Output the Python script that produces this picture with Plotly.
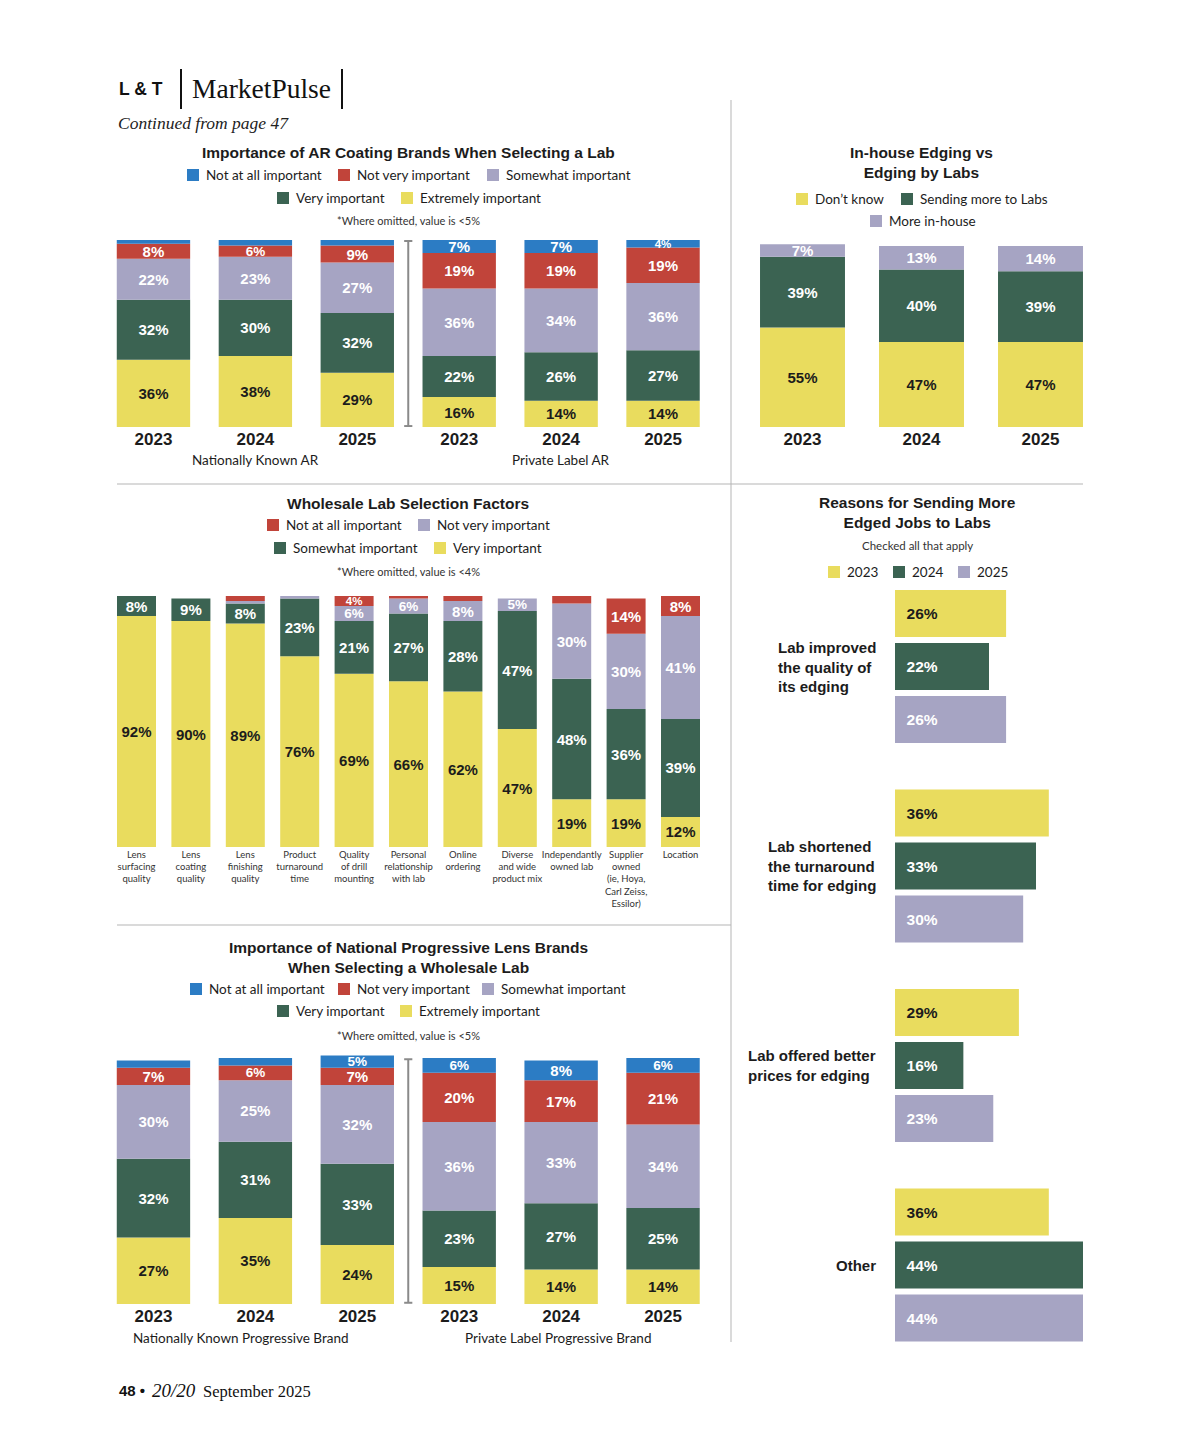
import plotly.graph_objects as go
import numpy as np

OFF = 8  # page body margin
W, H = 1184, 1434

# ---------------- DATA ----------------
ar_years = ['2023', '2024', '2025', '2023', '2024', '2025']
ar_groups = ['Nationally Known AR', 'Private Label AR']
ar_extremely = [36, 38, 29, 16, 14, 14]
ar_very = [32, 30, 32, 22, 26, 27]
ar_somewhat = [22, 23, 27, 36, 34, 36]
ar_not_very = [8, 6, 9, 19, 19, 19]
ar_not_at_all = [2, 3, 3, 7, 7, 4]

inhouse_years = ['2023', '2024', '2025']
inhouse_dont_know = [55, 47, 47]
inhouse_sending_labs = [39, 40, 39]
inhouse_more_inhouse = [7, 13, 14]

ws_factors = ['Lens<br>surfacing<br>quality', 'Lens<br>coating<br>quality', 'Lens<br>finishing<br>quality',
              'Product<br>turnaround<br>time', 'Quality<br>of drill<br>mounting',
              'Personal<br>relationship<br>with lab', 'Online<br>ordering',
              'Diverse<br>and wide<br>product mix', 'Independantly<br>owned lab',
              'Supplier<br>owned<br>(ie, Hoya,<br>Carl Zeiss,<br>Essilor)', 'Location']
ws_very = [92, 90, 89, 76, 69, 66, 62, 47, 19, 19, 12]
ws_somewhat = [8, 9, 8, 23, 21, 27, 28, 47, 48, 36, 39]
ws_not_very = [0, 0, 1, 1, 6, 6, 8, 5, 30, 30, 41]
ws_not_at_all = [0, 0, 2, 0, 4, 1, 2, 0, 3, 14, 8]

reasons = ['Lab improved<br>the quality of<br>its edging',
           'Lab shortened<br>the turnaround<br>time for edging',
           'Lab offered better<br>prices for edging',
           'Other']
reasons_2023 = [26, 36, 29, 36]
reasons_2024 = [22, 33, 16, 44]
reasons_2025 = [26, 30, 23, 44]

prog_years = ['2023', '2024', '2025', '2023', '2024', '2025']
prog_groups = ['Nationally Known Progressive Brand', 'Private Label Progressive Brand']
prog_extremely = [27, 35, 24, 15, 14, 14]
prog_very = [32, 31, 33, 23, 27, 25]
prog_somewhat = [30, 25, 32, 36, 33, 34]
prog_not_very = [7, 6, 7, 20, 17, 21]
prog_not_at_all = [3, 3, 5, 6, 8, 6]

# ---------------- STYLE ----------------
YEL = '#e9dc5e'
GRN = '#3b6352'
LAV = '#a6a4c3'
RED = '#c1443a'
BLU = '#2c7cc4'
DARK = '#1c1c1c'
SANS = 'Liberation Sans'
LEGF = 'Lato'
SERIF = 'Liberation Serif'


def px(x):
    return (x - OFF) / W


def py(y):
    return 1 - (y - OFF) / H


fig = go.Figure()
shapes = []
annotations = []


def label_size(a):
    if a <= 4:
        return 11.5
    if a <= 6:
        return 13.5
    return 15


def stacked(xa, ya, series, colors, width):
    n = len(series[0])
    base = np.zeros(n)
    for vals, col in zip(series, colors):
        v = np.array(vals, dtype=float)
        text = [f"{int(a)}%" if a >= 4 else "" for a in v]
        sizes = [label_size(a) for a in v]
        fig.add_trace(go.Bar(
            x=list(range(n)), y=v, base=base.copy(), width=width,
            marker=dict(color=col, line=dict(width=0)),
            text=text, textposition='inside', insidetextanchor='middle', textangle=0,
            constraintext='none',
            textfont=dict(color=DARK if col == YEL else 'white', family=SANS, size=sizes, weight=700),
            cliponaxis=False, xaxis=xa, yaxis=ya, showlegend=False))
        base += v


stacked('x', 'y', [ar_extremely, ar_very, ar_somewhat, ar_not_very, ar_not_at_all],
        [YEL, GRN, LAV, RED, BLU], 0.72)
stacked('x2', 'y2', [inhouse_dont_know, inhouse_sending_labs, inhouse_more_inhouse],
        [YEL, GRN, LAV], 0.714)
stacked('x3', 'y3', [ws_very, ws_somewhat, ws_not_very, ws_not_at_all],
        [YEL, GRN, LAV, RED], 0.717)
stacked('x4', 'y4', [prog_extremely, prog_very, prog_somewhat, prog_not_very, prog_not_at_all],
        [YEL, GRN, LAV, RED, BLU], 0.72)

# reasons (horizontal grouped)
bw = 47 / 199.5
step = 53 / 199.5
for k, (vals, col) in enumerate(zip([reasons_2023, reasons_2024, reasons_2025], [YEL, GRN, LAV])):
    fig.add_trace(go.Bar(
        y=list(range(len(reasons))), x=vals, orientation='h', width=bw,
        offset=(k - 1) * step - bw / 2,
        marker=dict(color=col, line=dict(width=0)),
        text=["\u00a0\u00a0" + f"{v}%" for v in vals], textposition='inside',
        insidetextanchor='start', textangle=0, constraintext='none',
        textfont=dict(color=DARK if col == YEL else 'white', family=SANS, size=15.5, weight=700),
        cliponaxis=False, xaxis='x5', yaxis='y5', showlegend=False))

for i, r in enumerate(reasons):
    annotations.append(dict(xref='paper', yref='y5', x=px(878), y=i, xanchor='right', yanchor='middle',
                            align='left', showarrow=False, text=f"<b>{r}</b>",
                            font=dict(family=SANS, size=15, color=DARK)))

year_font = dict(family=SANS, size=17, color=DARK)
common_x = dict(showgrid=False, zeroline=False, showline=False, ticks='', fixedrange=True)
common_y = dict(visible=False, fixedrange=True)

YMAX = 104  # headroom so that bars summing above 100 keep their labels


def ydom(bottom, top100):
    scale = (bottom - top100) / 100.0
    return [py(bottom), py(bottom - YMAX * scale)]


fig.update_layout(
    width=W, height=H, margin=dict(l=0, r=0, t=0, b=0),
    paper_bgcolor='white', plot_bgcolor='rgba(0,0,0,0)',
    barmode='overlay',
    xaxis=dict(domain=[px(102.5), px(714)], range=[-0.5, 5.5], anchor='y',
               tickvals=list(range(6)), ticktext=[f"<b>{y}</b>" for y in ar_years],
               tickfont=year_font, tickangle=0, **common_x),
    yaxis=dict(domain=ydom(427, 240), range=[0, YMAX], anchor='x', **common_y),
    xaxis2=dict(domain=[px(743), px(1100)], range=[-0.5, 2.5], anchor='y2',
                tickvals=list(range(3)), ticktext=[f"<b>{y}</b>" for y in inhouse_years],
                tickfont=year_font, tickangle=0, **common_x),
    yaxis2=dict(domain=ydom(427, 246), range=[0, YMAX], anchor='x2', **common_y),
    xaxis3=dict(domain=[px(109.3), px(707.7)], range=[-0.5, 10.5], anchor='y3',
                tickvals=list(range(11)), ticktext=ws_factors, tickangle=0,
                tickfont=dict(family=LEGF, size=9.5, color='#333'), **common_x),
    yaxis3=dict(domain=ydom(847, 596), range=[0, YMAX], anchor='x3', **common_y),
    xaxis4=dict(domain=[px(102.5), px(714)], range=[-0.5, 5.5], anchor='y4',
                tickvals=list(range(6)), ticktext=[f"<b>{y}</b>" for y in prog_years],
                tickfont=year_font, tickangle=0, **common_x),
    yaxis4=dict(domain=ydom(1304, 1058), range=[0, YMAX], anchor='x4', **common_y),
    xaxis5=dict(domain=[px(895), px(1083)], range=[0, 44], anchor='y5', visible=False, fixedrange=True),
    yaxis5=dict(domain=[py(1364.75), py(566.75)], range=[3.5, -0.5], anchor='x5', **common_y),
)


def text(x, y, t, size=13, family=LEGF, color=DARK, xanchor='left', yanchor='middle', align='left'):
    annotations.append(dict(xref='paper', yref='paper', x=px(x), y=py(y), text=t, showarrow=False,
                            xanchor=xanchor, yanchor=yanchor, align=align,
                            font=dict(family=family, size=size, color=color)))


def legend_item(xs, yc, color, label, size=12):
    shapes.append(dict(type='rect', xref='paper', yref='paper', x0=px(xs), x1=px(xs + size),
                       y0=py(yc + size / 2), y1=py(yc - size / 2), fillcolor=color, line=dict(width=0)))
    text(xs + size + 5, yc, label, size=13.5)


def line(x0, y0, x1, y1, color='#b5b5b5', w=1):
    shapes.append(dict(type='line', xref='paper', yref='paper', x0=px(x0), y0=py(y0), x1=px(x1), y1=py(y1),
                       line=dict(color=color, width=w)))


# header
text(117, 89, "<b>L &amp; T</b>", size=17.5, family=SANS, color='#111')
line(181, 69, 181, 109, color='#111', w=2)
text(190, 88, "MarketPulse", size=27.5, family=SERIF, color='#111')
line(342, 69, 342, 109, color='#111', w=2)
text(116, 123, "<i>Continued from page 47</i>", size=17.5, family=SERIF, color='#222')

# dividers
line(731, 100, 731, 1342)
line(117, 484, 1083, 484)
line(117, 925, 731, 925)

# AR chart
text(408, 153, "<b>Importance of AR Coating Brands When Selecting a Lab</b>", size=15.5, family=SANS,
     xanchor='center')
legend_item(187, 175, BLU, "Not at all important")
legend_item(338, 175, RED, "Not very important")
legend_item(487, 175, LAV, "Somewhat important")
legend_item(277, 198, GRN, "Very important")
legend_item(401, 198, YEL, "Extremely important")
text(408, 221, "*Where omitted, value is &lt;5%", size=11, xanchor='center', color='#333')
for gi, g in enumerate(ar_groups):
    annotations.append(dict(xref='x', yref='paper', x=1 + 3 * gi, y=py(460), text=g, showarrow=False,
                            xanchor='center', yanchor='middle', font=dict(family=LEGF, size=13.5, color=DARK)))

# separator with caps
for ax_x, ax_y in [('x', 'y'), ('x4', 'y4')]:
    shapes.append(dict(type='line', xref=ax_x, yref=ax_y, x0=2.5, x1=2.5, y0=0.5, y1=99.5,
                       line=dict(color='#8a8a8a', width=2)))
    for yy in (0.5, 99.5):
        shapes.append(dict(type='line', xref=ax_x, yref=ax_y, x0=2.46, x1=2.54, y0=yy, y1=yy,
                           line=dict(color='#8a8a8a', width=2)))

# In-house chart
text(921, 162, "<b>In-house Edging vs<br>Edging by Labs</b>", size=15.5, family=SANS, xanchor='center',
     align='center')
legend_item(796, 199, YEL, "Don\u2019t know")
legend_item(901, 199, GRN, "Sending more to Labs")
legend_item(870, 221, LAV, "More in-house")

# Wholesale chart
text(408, 503, "<b>Wholesale Lab Selection Factors</b>", size=15.5, family=SANS, xanchor='center')
legend_item(267, 525, RED, "Not at all important")
legend_item(418, 525, LAV, "Not very important")
legend_item(274, 548, GRN, "Somewhat important")
legend_item(434, 548, YEL, "Very important")
text(408, 571, "*Where omitted, value is &lt;4%", size=11, xanchor='center', color='#333')

# Reasons chart
text(917, 512, "<b>Reasons for Sending More<br>Edged Jobs to Labs</b>", size=15.5, family=SANS,
     xanchor='center', align='center')
text(917, 545, "Checked all that apply", size=11.5, xanchor='center', color='#333')
legend_item(828, 572, YEL, "2023")
legend_item(893, 572, GRN, "2024")
legend_item(958, 572, LAV, "2025")

# Progressive chart
text(408, 957, "<b>Importance of National Progressive Lens Brands<br>When Selecting a Wholesale Lab</b>",
     size=15.5, family=SANS, xanchor='center', align='center')
legend_item(190, 989, BLU, "Not at all important")
legend_item(338, 989, RED, "Not very important")
legend_item(482, 989, LAV, "Somewhat important")
legend_item(277, 1011, GRN, "Very important")
legend_item(400, 1011, YEL, "Extremely important")
text(408, 1035, "*Where omitted, value is &lt;5%", size=11, xanchor='center', color='#333')
text(241, 1338, prog_groups[0], size=13.5, xanchor='center')
text(558, 1338, prog_groups[1], size=13.5, xanchor='center')

# footer
text(117, 1390, "<b>48 \u2022</b>", size=15, family=SANS, color='#111')
text(150, 1390, "<i>20/20</i>", size=19, family=SERIF, color='#111')
text(201, 1391, "September 2025", size=16.5, family=SERIF, color='#111')

fig.update_layout(shapes=shapes, annotations=annotations)
fig.write_html("out.html")
